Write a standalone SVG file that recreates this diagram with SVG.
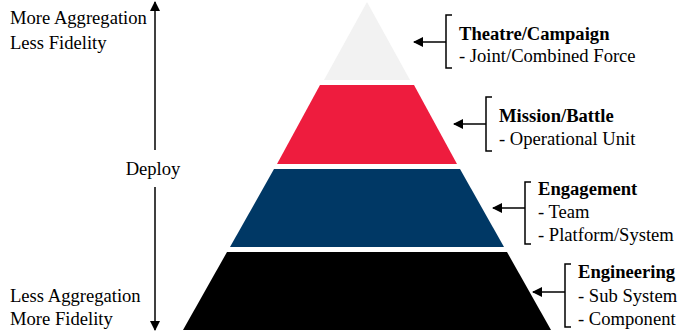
<svg xmlns="http://www.w3.org/2000/svg" width="678" height="335" viewBox="0 0 678 335">
<defs>
<marker id="ah" viewBox="0 0 10 10" refX="9" refY="5" markerWidth="10" markerHeight="10" markerUnits="userSpaceOnUse" orient="auto">
<path d="M0,0 L10,5 L0,10 z" fill="#000"/>
</marker>
<marker id="ah2" viewBox="0 0 10 10" refX="9" refY="5" markerWidth="12" markerHeight="10" markerUnits="userSpaceOnUse" orient="auto">
<path d="M0,0 L10,5 L0,10 z" fill="#000"/>
</marker>
</defs>
<style>
text{font-family:"Liberation Serif","Times New Roman",serif;font-size:18.6px;fill:#000}
.b{font-weight:bold}
.ln{stroke:#000;stroke-width:1.5;fill:none}
</style>
<rect width="678" height="335" fill="#fff"/>
<g id="level-theatre">
<polygon points="367,2 410,80 324,80" fill="#f2f2f2"/>
<text x="459" y="40" class="b">Theatre/Campaign</text>
<text x="459" y="62">- Joint/Combined Force</text>
</g>
<g id="level-mission">
<polygon points="320,85 414,85 457,164 277,164" fill="#ee1c3e"/>
<text x="499" y="122" class="b">Mission/Battle</text>
<text x="499" y="145">- Operational Unit</text>
</g>
<g id="level-engagement">
<polygon points="274,169 460,169 504,247 230,247" fill="#003865"/>
<text x="538" y="195" class="b">Engagement</text>
<text x="538" y="218">- Team</text>
<text x="538" y="241">- Platform/System</text>
</g>
<g id="level-engineering">
<polygon points="227,252 507,252 551,330 183,330" fill="#000"/>
<text x="578" y="278" class="b">Engineering</text>
<text x="578" y="302">- Sub System</text>
<text x="578" y="325">- Component</text>
</g>
<g id="axis">
<text x="10" y="24">More Aggregation</text>
<text x="10" y="49">Less Fidelity</text>
<text x="153" y="175" text-anchor="middle">Deploy</text>
<text x="10" y="302">Less Aggregation</text>
<text x="10" y="325">More Fidelity</text>
</g>
<g id="connectors">
<line class="ln" x1="155" y1="150" x2="155" y2="2" marker-end="url(#ah2)"/>
<line class="ln" x1="155" y1="187" x2="155" y2="330" marker-end="url(#ah2)"/>
<path class="ln" d="M452,15 H446 V68 H452"/>
<line class="ln" x1="446" y1="42" x2="414" y2="42" marker-end="url(#ah)"/>
<path class="ln" d="M492,97 H486 V151 H492"/>
<line class="ln" x1="486" y1="124" x2="454" y2="124" marker-end="url(#ah)"/>
<path class="ln" d="M531,182 H525 V244 H531"/>
<line class="ln" x1="525" y1="208" x2="493" y2="208" marker-end="url(#ah)"/>
<path class="ln" d="M571,264 H565 V327 H571"/>
<line class="ln" x1="565" y1="292" x2="533" y2="292" marker-end="url(#ah)"/>
</g>
</svg>
